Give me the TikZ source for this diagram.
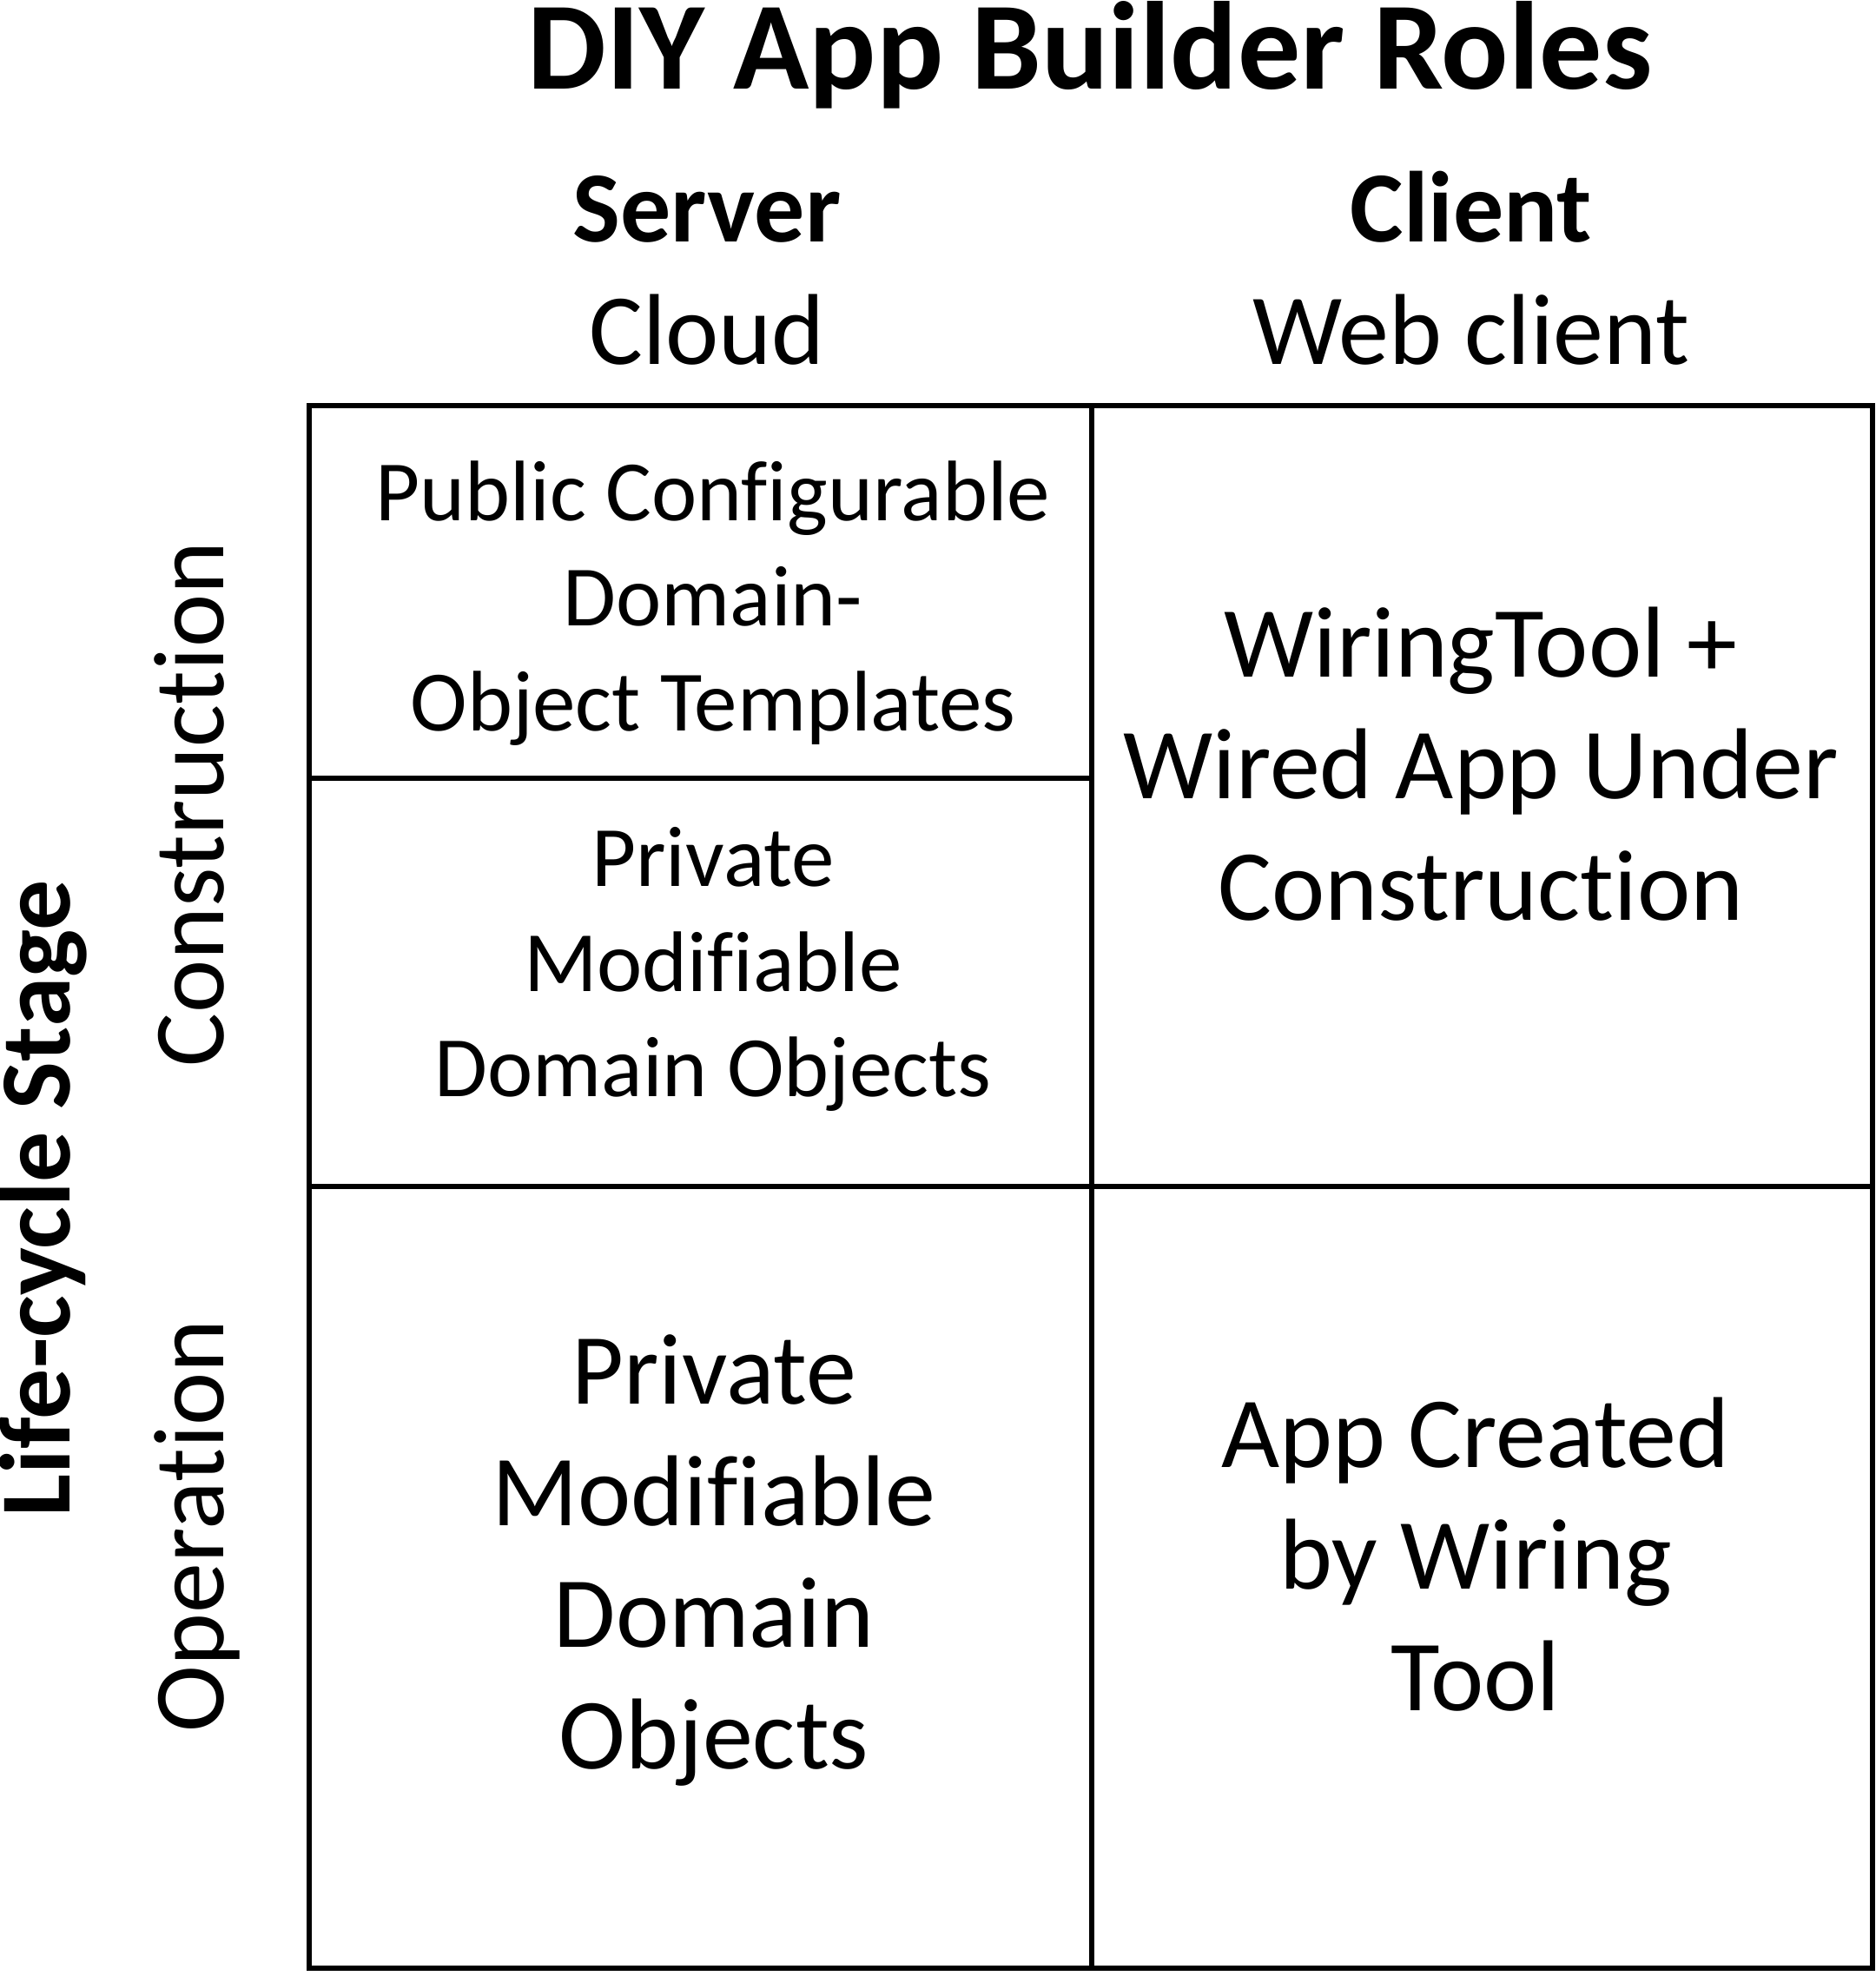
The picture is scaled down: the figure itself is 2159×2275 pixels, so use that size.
\documentclass[tikz,border=0pt]{standalone}
\usepackage{fontspec}
\setmainfont{Carlito}[Ligatures=NoCommon]
\begin{document}
\begin{tikzpicture}[x=0.5pt,y=-0.5pt,
  grid/.style={line width=3.25pt,line cap=rect},
  big/.style={font=\fontsize{58}{70}\selectfont,align=center,anchor=base,inner sep=0pt},
  bigb/.style={font=\bfseries\fontsize{58}{70}\selectfont,align=center,anchor=base,inner sep=0pt},
  small/.style={font=\fontsize{49.5}{60.5}\selectfont,align=center,anchor=base,inner sep=0pt},
  titlestyle/.style={font=\bfseries\fontsize{72}{86}\selectfont,anchor=base,inner sep=0pt}]
\useasboundingbox (0,0) rectangle (2159,2275);
\fill[white] (0,0) rectangle (2159,2275);
% grid
\coordinate (tl) at (356,467);
\coordinate (tr) at (2156,467);
\coordinate (bl) at (356,2266);
\coordinate (br) at (2156,2266);
\coordinate (mt) at (1257,467);
\coordinate (mb) at (1257,2266);
\coordinate (ml) at (356,1366);
\coordinate (mr) at (2156,1366);
\coordinate (sl) at (356,896);
\coordinate (sr) at (1257,896);
\draw[grid] (tl) rectangle (br);
\draw[grid] (mt) -- (mb);
\draw[grid] (ml) -- (mr);
\draw[grid] (sl) -- (sr);
% title and headers
\node[titlestyle] (title) at (1255,102) {DIY App Builder Roles};
\node[bigb] (server) at (814,278) {Server};
\node[big] (cloud) at (814,419) {Cloud};
\node[bigb] (client) at (1694,278) {Client};
\node[big] (web) at (1694,419) {Web client};
% row labels
\node[bigb,rotate=90] (stage) at (80,1380) {Life-cycle Stage};
\node[big,rotate=90] (constr) at (257,926) {Construction};
\node[big,rotate=90] (oper) at (257,1757) {Operation};
% cells (anchor base = baseline of the last line)
\node[small] (pub) at (821,841) {Public Configurable\\Domain-\\Object Templates};
\node[small] (priv) at (821,1262) {Private\\Modifiable\\Domain Objects};
\node[big] (wiring) at (1705,1059) {WiringTool +\\Wired App Under\\Construction};
\node[big] (privop) at (822,2036) {Private\\Modifiable\\Domain\\Objects};
\node[big] (appc) at (1699,1969) {App Created\\by Wiring\\Tool};
\end{tikzpicture}
\end{document}
